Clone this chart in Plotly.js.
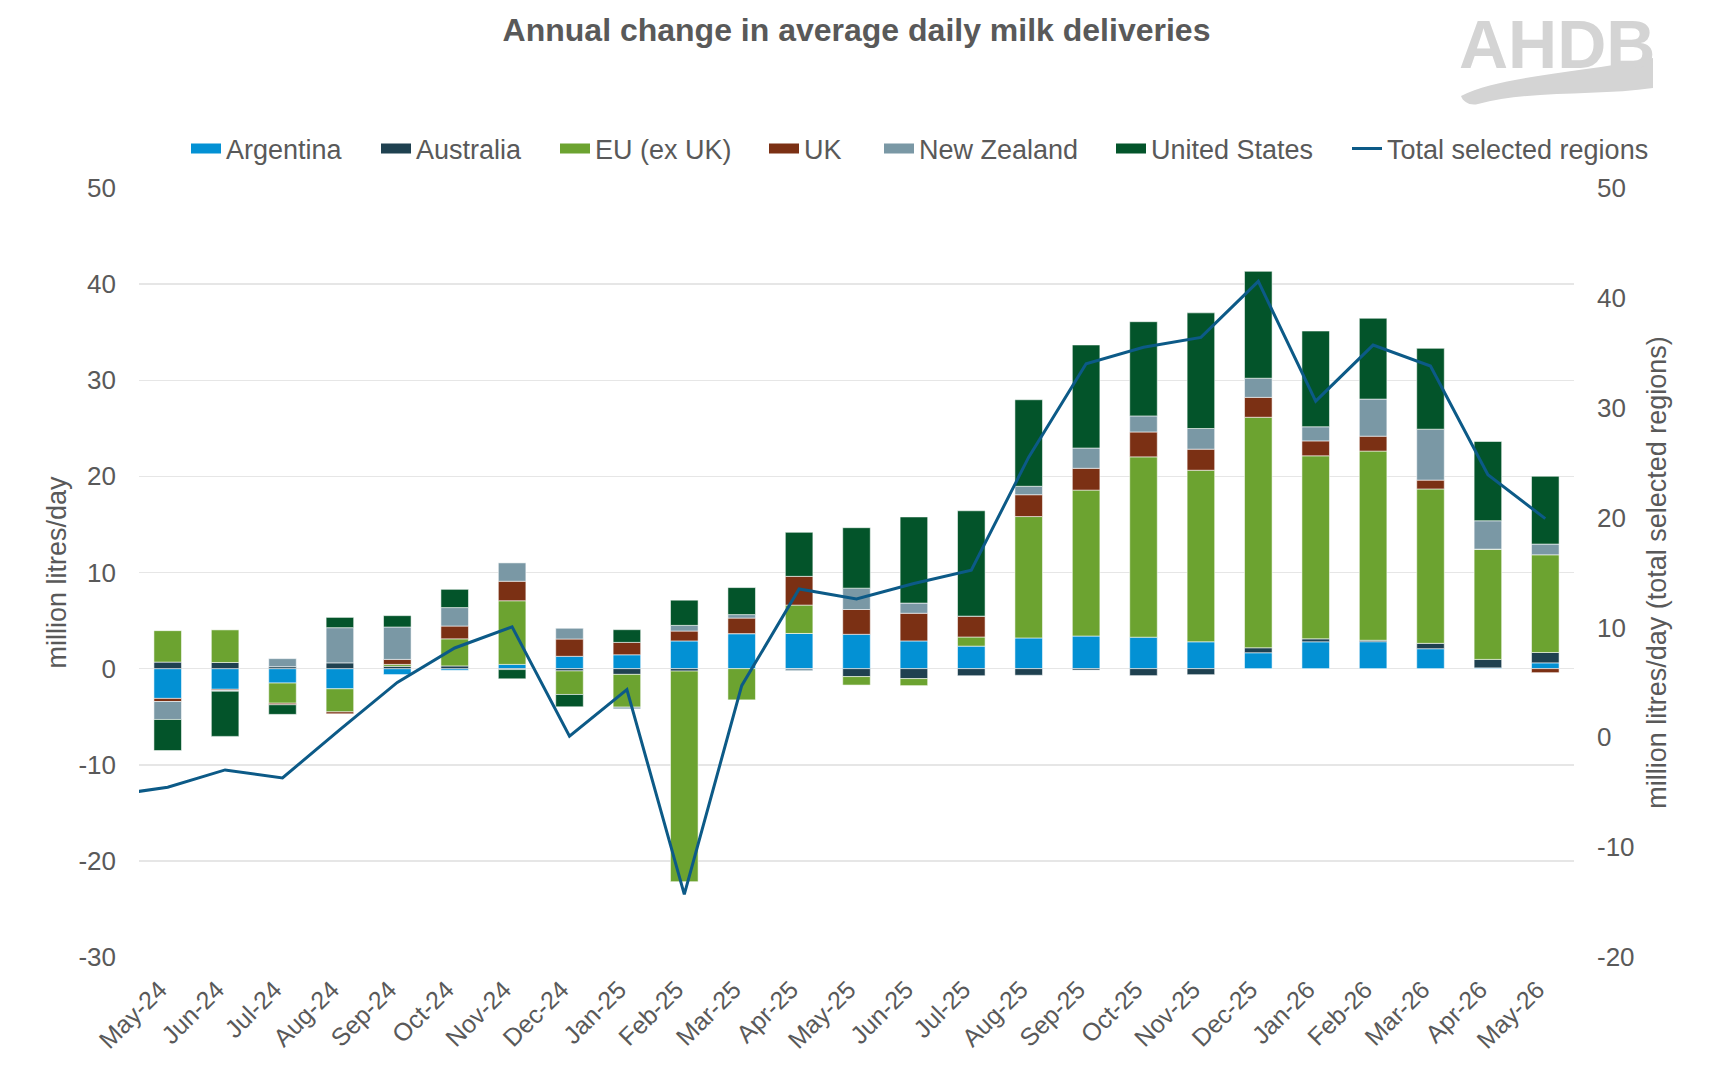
<!DOCTYPE html>
<html>
<head>
<meta charset="utf-8">
<script src="https://cdn.plot.ly/plotly-3.0.1.min.js"></script>
<style>
  html, body { margin: 0; padding: 0; background: #ffffff; }
  #chart { width: 1713px; height: 1080px; }
</style>
</head>
<body>
<div id="chart"></div>
<script>
// Months shown as bars
const barMonths = ['May-24', 'Jun-24', 'Jul-24', 'Aug-24', 'Sep-24', 'Oct-24', 'Nov-24', 'Dec-24',
  'Jan-25', 'Feb-25', 'Mar-25', 'Apr-25', 'May-25', 'Jun-25', 'Jul-25', 'Aug-25', 'Sep-25',
  'Oct-25', 'Nov-25', 'Dec-25', 'Jan-26', 'Feb-26', 'Mar-26', 'Apr-26', 'May-26'];
// The total line also carries the preceding month, which falls just outside the axis range
const lineMonths = ['Apr-24', ...barMonths];

// Annual change in average daily deliveries, million litres/day
const argentina = [-3.10, -2.15, -1.50, -2.10, -0.62, -0.17, 0.44, 1.28, 1.44, 2.88, 3.64, 3.66, 3.57,
  2.88, 2.34, 3.19, 3.39, 3.27, 2.79, 1.65, 2.79, 2.80, 2.07, 0.08, 0.60];
const australia = [0.68, 0.64, 0.20, 0.60, 0.24, 0.28, -0.10, -0.24, -0.60, -0.26, 0.00, 0.00, -0.83,
  -1.04, -0.74, -0.69, -0.15, -0.73, -0.63, 0.52, 0.31, 0.15, 0.56, 0.88, 1.08];
const euExUk = [3.27, 3.39, -2.10, -2.40, 0.20, 2.82, 6.62, -2.45, -3.41, -21.90, -3.25, 2.95, -0.88,
  -0.73, 0.95, 12.63, 15.18, 18.76, 17.85, 23.98, 19.04, 19.68, 16.06, 11.47, 10.16];
const uk = [-0.32, -0.12, -0.16, -0.20, 0.52, 1.33, 2.03, 1.80, 1.29, 1.03, 1.62, 2.99, 2.58,
  2.88, 2.17, 2.27, 2.27, 2.59, 2.19, 2.07, 1.55, 1.55, 0.92, 0.00, -0.42];
const newZealand = [-1.87, -0.08, 0.84, 3.66, 3.37, 1.92, 1.91, 1.12, -0.18, 0.59, 0.36, -0.22, 2.22,
  1.06, 0.00, 0.88, 2.11, 1.67, 2.15, 1.99, 1.47, 3.86, 5.30, 2.95, 1.12];
const unitedStates = [-3.23, -4.70, -1.00, 1.07, 1.18, 1.90, -0.96, -1.28, 1.32, 2.62, 2.81, 4.58, 6.29,
  8.96, 10.96, 9.00, 10.72, 9.80, 12.03, 11.12, 9.96, 8.41, 8.41, 8.25, 7.05];
// Total selected regions (secondary axis), Apr-24 to May-26
const totalSelected = [-5.3, -4.55, -2.97, -3.70, 0.70, 5.00, 8.13, 10.05, 0.10, 4.35, -14.30, 4.70,
  13.50, 12.60, 14.00, 15.20, 25.50, 34.00, 35.50, 36.40, 41.50, 30.60, 35.70, 33.80, 23.90, 19.90];

// Axis ticks and their labels
const leftTicks = [-30, -20, -10, 0, 10, 20, 30, 40, 50];
const leftTickText = ['-30', '-20', '-10', '0', '10', '20', '30', '40', '50'];
const rightTicks = [-20, -10, 0, 10, 20, 30, 40, 50];
const rightTickText = ['-20', '-10', '0', '10', '20', '30', '40', '50'];

const seriesNames = ['Argentina', 'Australia', 'EU (ex UK)', 'UK', 'New Zealand', 'United States'];
const seriesValues = [argentina, australia, euExUk, uk, newZealand, unitedStates];
const seriesColors = ['#0391D4', '#1F4150', '#6CA330', '#7B3014', '#7A98A5', '#03542A'];
const lineColor = '#0C5A87';
const totalName = 'Total selected regions';

const textColor = '#595959';
const fontFamily = 'Liberation Sans, Arial, sans-serif';

// Plot area in page pixels, used to place the legends and the logo
const W = 1713, H = 1080;
const M = { l: 139, r: 139, t: 188, b: 123 };
const plotW = W - M.l - M.r, plotH = H - M.t - M.b;
const px = v => (v - M.l) / plotW;
const py = v => (H - M.b - v) / plotH;

const traces = [];
seriesNames.forEach((name, i) => {
  traces.push({
    type: 'bar',
    name: name,
    x: barMonths,
    y: seriesValues[i],
    marker: { color: seriesColors[i], line: { color: 'rgba(255,255,255,0.55)', width: 1 } },
    legendgroup: name,
    showlegend: false,
    hovertemplate: name + ' %{x}: %{y:.1f}<extra></extra>'
  });
});

// Legend swatches, one legend per entry so each sits where it should
const legendLeft = [186, 376, 555, 764, 879, 1111, 1347];
seriesNames.forEach((name, i) => {
  traces.push({
    type: 'scatter',
    mode: 'lines',
    name: name,
    x: [null],
    y: [null],
    line: { color: seriesColors[i], width: 13 },
    legendgroup: name,
    legend: 'legend' + (i === 0 ? '' : (i + 1)),
    hoverinfo: 'skip'
  });
});

traces.push({
  type: 'scatter',
  mode: 'lines',
  name: totalName,
  x: lineMonths,
  y: totalSelected,
  yaxis: 'y2',
  line: { color: lineColor, width: 3 },
  legend: 'legend7',
  hovertemplate: totalName + ' %{x}: %{y:.1f}<extra></extra>'
});

// AHDB mark: a wave under the lettering
const wave = 'M' + px(1461) + ',' + py(96) +
  ' C' + px(1500) + ',' + py(76) + ' ' + px(1572) + ',' + py(74) + ' ' + px(1653) + ',' + py(58) +
  ' L' + px(1653) + ',' + py(88) +
  ' C' + px(1600) + ',' + py(96) + ' ' + px(1530) + ',' + py(90) + ' ' + px(1478) + ',' + py(104) +
  ' C' + px(1470) + ',' + py(106) + ' ' + px(1463) + ',' + py(102) + ' ' + px(1461) + ',' + py(96) + ' Z';

const layout = {
  width: W,
  height: H,
  margin: M,
  paper_bgcolor: '#ffffff',
  plot_bgcolor: '#ffffff',
  font: { family: fontFamily, color: textColor, size: 26 },
  barmode: 'relative',
  bargap: 0.52,
  title: {
    text: 'Annual change in average daily milk deliveries',
    font: { family: fontFamily, size: 32, color: textColor, weight: 'bold' },
    x: 0.5,
    xanchor: 'center',
    xref: 'paper',
    y: 1 - 30 / H,
    yanchor: 'middle',
    yref: 'container'
  },
  xaxis: {
    type: 'category',
    categoryorder: 'array',
    categoryarray: lineMonths,
    range: [0.5, lineMonths.length - 0.5],
    tickangle: -45,
    tickfont: { size: 25, color: textColor },
    ticklabelstandoff: 12,
    ticklabelshift: -8,
    showgrid: false,
    zeroline: false,
    showline: false,
    ticks: ''
  },
  yaxis: {
    range: [-30, 50],
    tickmode: 'array',
    tickvals: leftTicks,
    ticktext: leftTickText,
    gridcolor: '#e6e6e6',
    gridwidth: 1.5,
    zeroline: true,
    zerolinecolor: '#e6e6e6',
    zerolinewidth: 1.5,
    showline: false,
    ticks: '',
    ticklabelstandoff: 22,
    tickfont: { size: 26, color: textColor },
    title: { text: 'million litres/day', font: { size: 27, color: textColor }, standoff: 3 }
  },
  yaxis2: {
    overlaying: 'y',
    side: 'right',
    range: [-20, 50],
    tickmode: 'array',
    tickvals: rightTicks,
    ticktext: rightTickText,
    showgrid: false,
    zeroline: false,
    showline: false,
    ticks: '',
    ticklabelstandoff: 22,
    tickfont: { size: 26, color: textColor },
    title: { text: 'million litres/day (total selected regions)', font: { size: 27, color: textColor }, standoff: 13 }
  },
  annotations: [{
    text: 'AHDB',
    xref: 'paper', yref: 'paper',
    x: px(1557), y: py(44),
    xanchor: 'center', yanchor: 'middle',
    showarrow: false,
    font: { family: 'Liberation Sans Narrow, Liberation Sans, Arial, sans-serif', size: 68, color: '#d4d4d4', weight: 'bold' }
  }],
  shapes: [{
    type: 'path',
    xref: 'paper', yref: 'paper',
    path: wave,
    fillcolor: '#d4d4d4',
    line: { width: 0 },
    layer: 'above'
  }]
};

// One horizontal legend per entry
legendLeft.forEach((left, i) => {
  const key = 'legend' + (i === 0 ? '' : (i + 1));
  layout[key] = {
    orientation: 'h',
    x: px(left),
    xanchor: 'left',
    y: py(149),
    yanchor: 'middle',
    bgcolor: 'rgba(0,0,0,0)',
    borderwidth: 0,
    font: { family: fontFamily, size: 27, color: textColor }
  };
});

Plotly.newPlot('chart', traces, layout, { displayModeBar: false, staticPlot: true });
</script>
</body>
</html>
